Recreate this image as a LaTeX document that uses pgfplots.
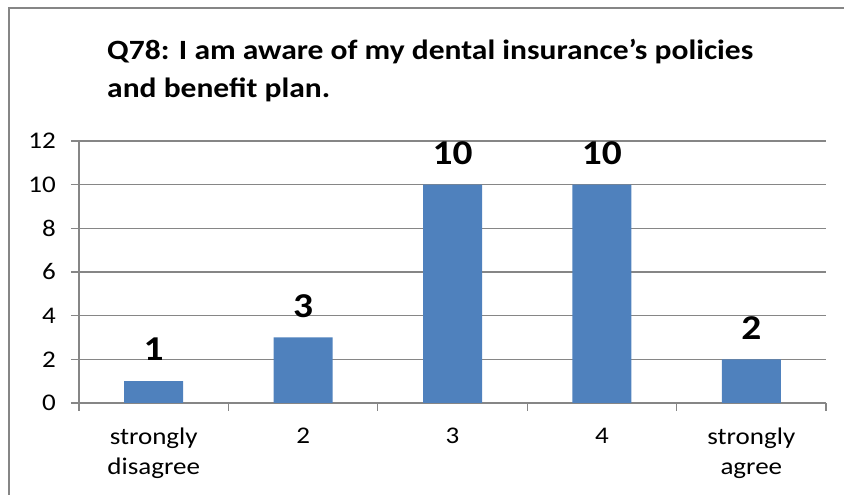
\documentclass[border=0pt]{standalone}
\usepackage{fontspec}
\setmainfont{Carlito}[FakeStretch=1.13]
\usepackage{pgfplots}
\pgfplotsset{compat=1.18}
\definecolor{barblue}{HTML}{4F81BD}
\definecolor{gridgray}{HTML}{868686}

\begin{document}
\begin{tikzpicture}[x=1bp,y=1bp]
  \clip (0,0) rectangle (844,495);
  \useasboundingbox (0,0) rectangle (844,495);

  % chart frame (runs off the right and bottom edges)
  \draw[gridgray, line width=2bp] (9,-20) rectangle (880,487);

  % title
  \node[anchor=base west, inner sep=0, font=\fontsize{28}{33}\selectfont\bfseries]
    at (107,435) {Q78: I am aware of my dental insurance’s policies};
  \node[anchor=base west, inner sep=0, font=\fontsize{28}{33}\selectfont\bfseries]
    at (107,397) {and benefit plan.};

  \begin{axis}[
    at={(79bp,92bp)}, anchor=south west,
    scale only axis,
    width=747bp, height=262bp,
    xmin=-0.5, xmax=4.5,
    ymin=0, ymax=12,
    ytick={0,2,...,12},
    xtick={0,1,2,3,4},
    xticklabels={strongly\\disagree,2,3,4,strongly\\agree},
    axis x line*=bottom,
    axis y line*=left,
    axis line style={gridgray, line width=1.3bp, -},
    tick align=outside,
    major tick length=8bp,
    tick style={gridgray, line width=1.3bp},
    major x tick style={draw=none},
    extra x ticks={-0.5,0.5,1.5,2.5,3.5,4.5},
    extra x tick labels={},
    extra x tick style={major x tick style={draw=gridgray}, grid=none},
    ymajorgrids,
    grid style={gridgray, line width=1.3bp},
    /pgf/number format/assume math mode=true,
    tick label style={font=\fontsize{24}{30}\selectfont},
    x tick label style={align=center, anchor=north, inner sep=0, yshift=-17bp},
    y tick label style={anchor=east, inner sep=0, xshift=-15bp},
    ybar, bar width=59bp,
    nodes near coords,
    every node near coord/.append style={
      font=\fontsize{35}{41}\selectfont\bfseries, black,
      anchor=south, inner sep=0, yshift=20bp},
  ]
    \addplot[fill=barblue, draw=none] coordinates {
      (0,1) (1,3) (2,10) (3,10) (4,2)
    };
  \end{axis}
\end{tikzpicture}
\end{document}
